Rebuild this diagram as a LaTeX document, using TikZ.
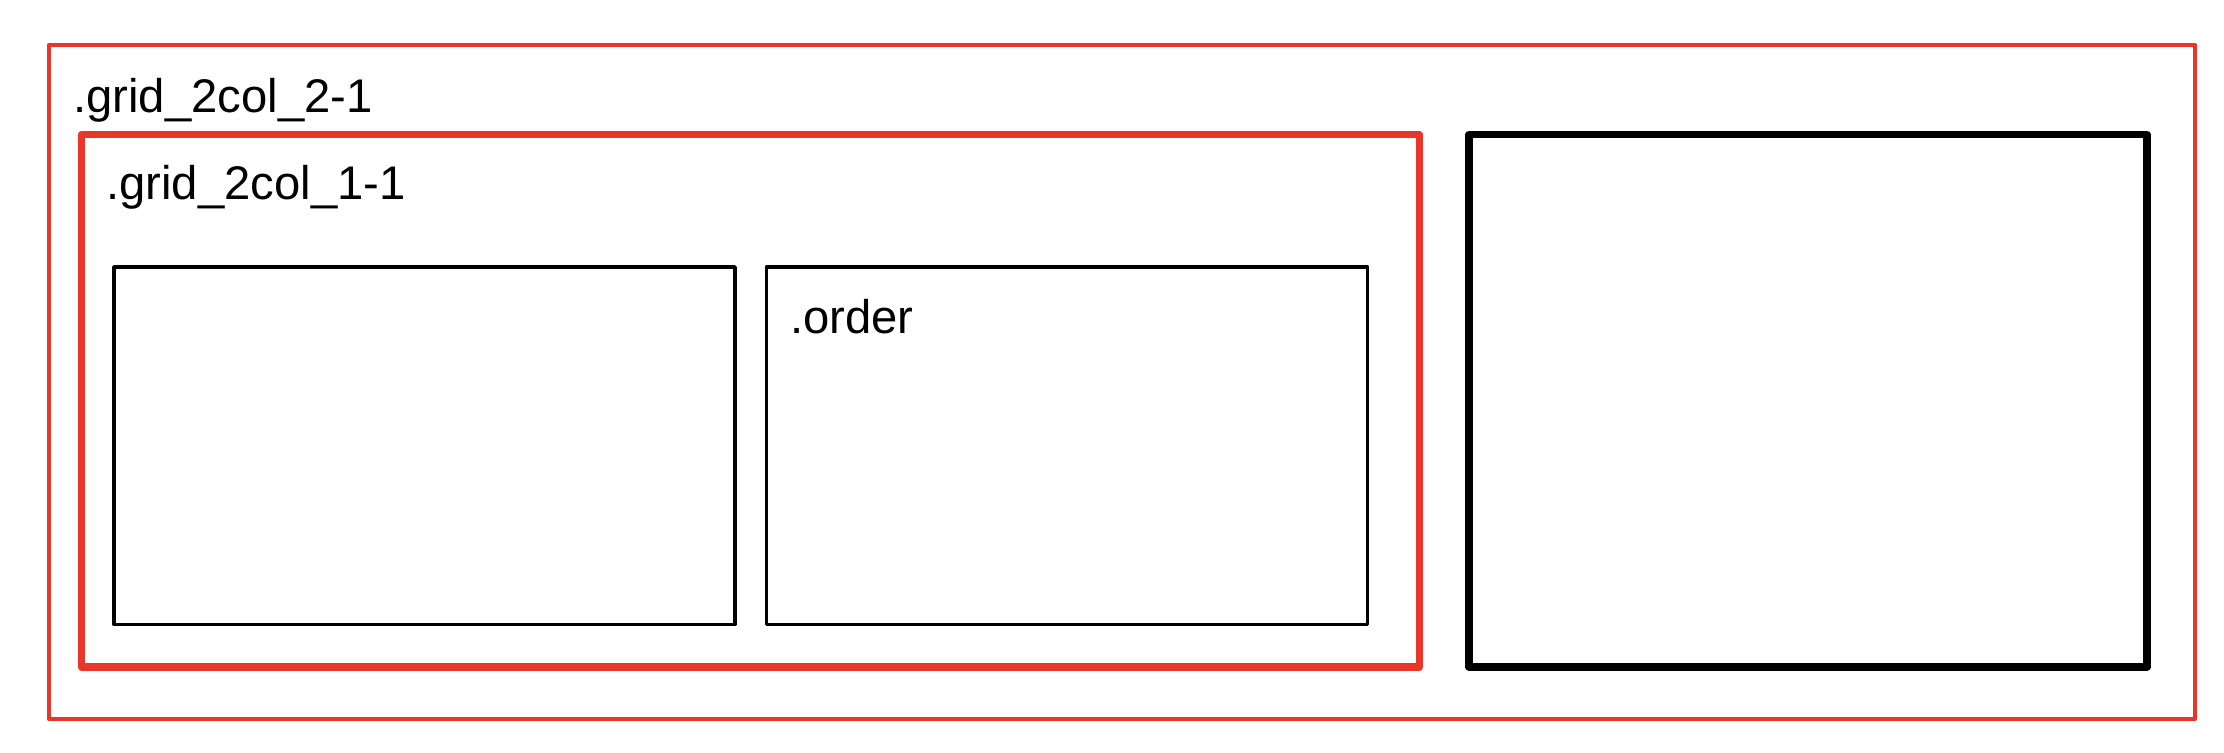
\documentclass[tikz,border=0pt]{standalone}
\usepackage{fontspec}
\setmainfont{Liberation Sans}
\definecolor{boxred}{RGB}{234,54,40}
\begin{document}
\begin{tikzpicture}[x=0.5pt,y=-0.5pt,
  box/.style={draw,rectangle,inner sep=0pt,outer sep=0pt,line join=round},
  outerred/.style={box,draw=boxred,line width=2pt},
  innerred/.style={box,draw=boxred,line width=3.75pt},
  bigblack/.style={box,draw=black,line width=3.75pt},
  smallblack/.style={box,draw=black,line width=1.75pt},
  lbl/.style={inner sep=0pt,anchor=base west,font=\fontsize{23.6pt}{28pt}\selectfont}]
\useasboundingbox[fill=white] (0,0) rectangle (2224,752);
\node[outerred,minimum width=1073.25pt,minimum height=337pt] (outer) at (1121.75,382) {};
\node[innerred,minimum width=669pt,minimum height=266.25pt] (inner) at (750.5,400.75) {};
\node[bigblack,minimum width=339pt,minimum height=266.25pt] (right) at (1808,400.75) {};
\node[smallblack,minimum width=310.5pt,minimum height=178.75pt] (left) at (424.5,445.75) {};
\node[smallblack,minimum width=300.6pt,minimum height=178.75pt] (order) at (1066.9,445.75) {};
\node[lbl] (louter) at (73,112) {.grid\_2col\_2-1};
\node[lbl] (linner) at (106,199) {.grid\_2col\_1-1};
\node[lbl] (lorder) at (790,333) {.order};
\end{tikzpicture}
\end{document}
